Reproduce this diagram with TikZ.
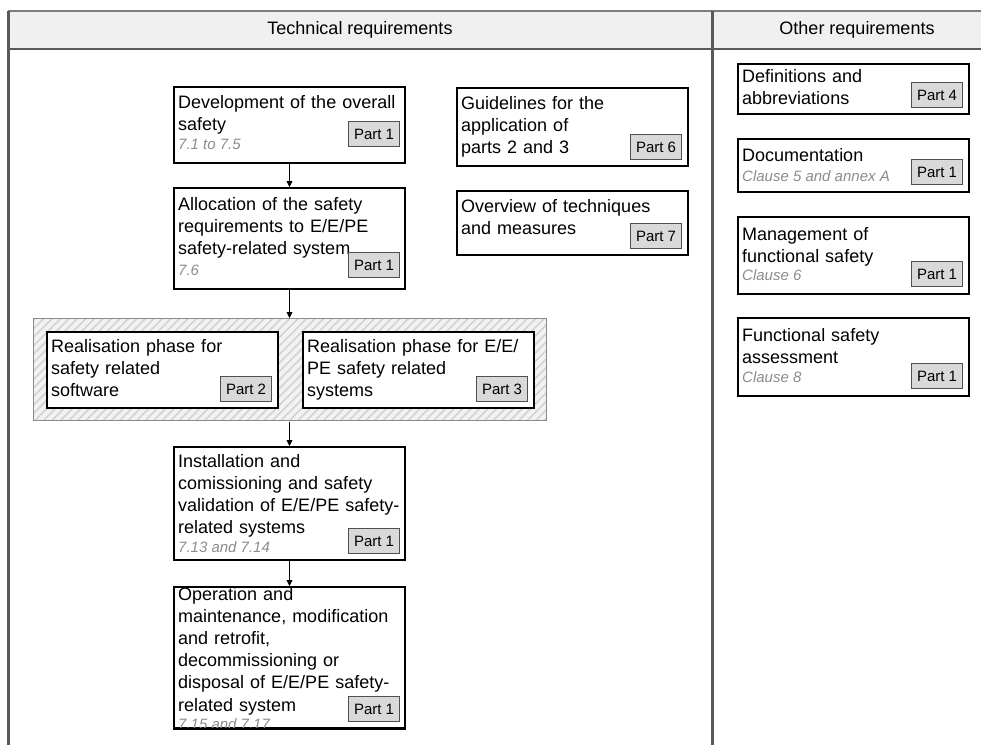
\documentclass[tikz,border=0pt]{standalone}
\usepackage{fontspec}
\setmainfont{Liberation Sans}
\usetikzlibrary{arrows.meta,patterns.meta}

\definecolor{headfill}{HTML}{F0F0F0}
\definecolor{framegray}{HTML}{5A5A5A}
\definecolor{framelight}{HTML}{7C7C7C}
\definecolor{clausegray}{HTML}{8C8C8C}
\definecolor{tagfill}{HTML}{D9D9D9}
\definecolor{tagline}{HTML}{505050}
\definecolor{bandbg}{HTML}{F2F2F2}
\definecolor{bandline}{HTML}{D2D2D2}
\definecolor{bandedge}{HTML}{8A8A8A}

\tikzset{
  box/.style={draw=black, line width=2pt, fill=white, anchor=north west,
    inner sep=0pt, minimum width=231pt},
  title/.style={anchor=base west, inner sep=0pt, text width=300pt, align=left,
    font=\fontsize{18}{22.2}\selectfont},
  clause/.style={anchor=base west, inner sep=0pt,
    font=\fontsize{15}{18}\selectfont\itshape, text=clausegray},
  tag/.style={draw=tagline, line width=0.9pt, fill=tagfill, minimum width=51pt,
    minimum height=25pt, inner sep=0pt, anchor=south east,
    font=\fontsize{15}{18}\selectfont},
  flow/.style={-{Triangle[length=6pt,width=6pt]}, line width=0.8pt},
  head/.style={inner sep=0pt, font=\fontsize{18}{22}\selectfont},
  band/.style={draw=bandedge, line width=1pt, anchor=north west, inner sep=0pt,
    preaction={fill=bandbg},
    pattern={Lines[angle=45,distance=6pt,line width=1.6pt]},
    pattern color=bandline}
}

\begin{document}
\begin{tikzpicture}[x=1pt,y=-1pt]
\useasboundingbox (0,0) rectangle (981,744);

% column headers and frame
\fill[headfill] (8,11) rectangle (990,49);
\coordinate (tl) at (8,11);
\coordinate (tr) at (990,11);
\coordinate (hl) at (8,49);
\coordinate (hr) at (990,49);
\coordinate (bl) at (8,750);
\coordinate (dt) at (712,11);
\coordinate (db) at (712,750);
\draw[framelight, line width=2.2pt] (tl) -- (tr);
\draw[framegray, line width=2.6pt] (hl) -- (hr);
\draw[framegray, line width=3pt] (tl) -- (bl);
\draw[framegray, line width=3pt] (dt) -- (db);
\node[head] (hTech) at (360,30) {Technical requirements};
\node[head] (hOther) at (857,30) {Other requirements};

% main flow
\node[box, minimum height=76pt] (dev) at (173,86) {};
\node[title] (devT) at (178,108) {Development of the overall\\safety};
\node[clause] (devC) at (178,149) {7.1 to 7.5};
\node[tag] (devP) at (400,147) {Part 1};

\node[box, minimum height=101pt] (alloc) at (173,187) {};
\node[title] (allocT) at (178,210) {Allocation of the safety\\requirements to E/E/PE\\safety-related system};
\node[clause] (allocC) at (178,275) {7.6};
\node[tag] (allocP) at (400,278) {Part 1};

\node[band, minimum width=513pt, minimum height=102pt] (band) at (33,318) {};

\node[box, minimum height=76pt] (sw) at (46,331) {};
\node[title] (swT) at (51,352) {Realisation phase for\\safety related\\software};
\node[tag] (swP) at (272,402) {Part 2};

\node[box, minimum height=76pt] (hw) at (302,331) {};
\node[title] (hwT) at (307,352) {Realisation phase for E/E/\\PE safety related\\systems};
\node[tag] (hwP) at (528,402) {Part 3};

\node[box, minimum height=113pt] (inst) at (173,446) {};
\node[title] (instT) at (178,467) {Installation and\\comissioning and safety\\validation of E/E/PE safety-\\related systems};
\node[clause] (instC) at (178,552) {7.13 and 7.14};
\node[tag] (instP) at (400,554) {Part 1};

\node[box, minimum height=141pt] (oper) at (173,586) {};
\node[title] (operT) at (178,600) {Operation and\\maintenance, modification\\and retrofit,\\decommissioning or\\disposal of E/E/PE safety-\\related system};
\node[clause] (operC) at (178,729) {7.15 and 7.17};
\node[tag] (operP) at (400,722) {Part 1};
% the bottom border runs across the clause line
\draw[line width=2pt] (oper.south west) -- (oper.south east);

\draw[flow] (dev.south) -- (alloc.north);
\draw[flow] (alloc.south) -- (alloc.south |- band.north);
\draw[flow] (inst.north |- band.south) -- (inst.north);
\draw[flow] (inst.south) -- (oper.north);

% guidance parts
\node[box, minimum height=78pt] (guide) at (456,87) {};
\node[title] (guideT) at (461,109) {Guidelines for the\\application of\\parts 2 and 3};
\node[tag] (guideP) at (682,160) {Part 6};

\node[box, minimum height=64pt] (tech) at (456,190) {};
\node[title] (techT) at (461,212) {Overview of techniques\\and measures};
\node[tag] (techP) at (682,249) {Part 7};

% other requirements
\node[box, minimum height=50pt] (defs) at (737,63) {};
\node[title] (defsT) at (742,82) {Definitions and\\abbreviations};
\node[tag] (defsP) at (963,108) {Part 4};

\node[box, minimum height=53pt] (doc) at (737,138) {};
\node[title] (docT) at (742,161) {Documentation};
\node[clause] (docC) at (742,181) {Clause 5 and annex A};
\node[tag] (docP) at (963,185) {Part 1};

\node[box, minimum height=77pt] (mgmt) at (737,216) {};
\node[title] (mgmtT) at (742,240) {Management of\\functional safety};
\node[clause] (mgmtC) at (742,280) {Clause 6};
\node[tag] (mgmtP) at (963,287) {Part 1};

\node[box, minimum height=78pt] (fsa) at (737,317) {};
\node[title] (fsaT) at (742,341) {Functional safety\\assessment};
\node[clause] (fsaC) at (742,382) {Clause 8};
\node[tag] (fsaP) at (963,389) {Part 1};
\end{tikzpicture}
\end{document}
